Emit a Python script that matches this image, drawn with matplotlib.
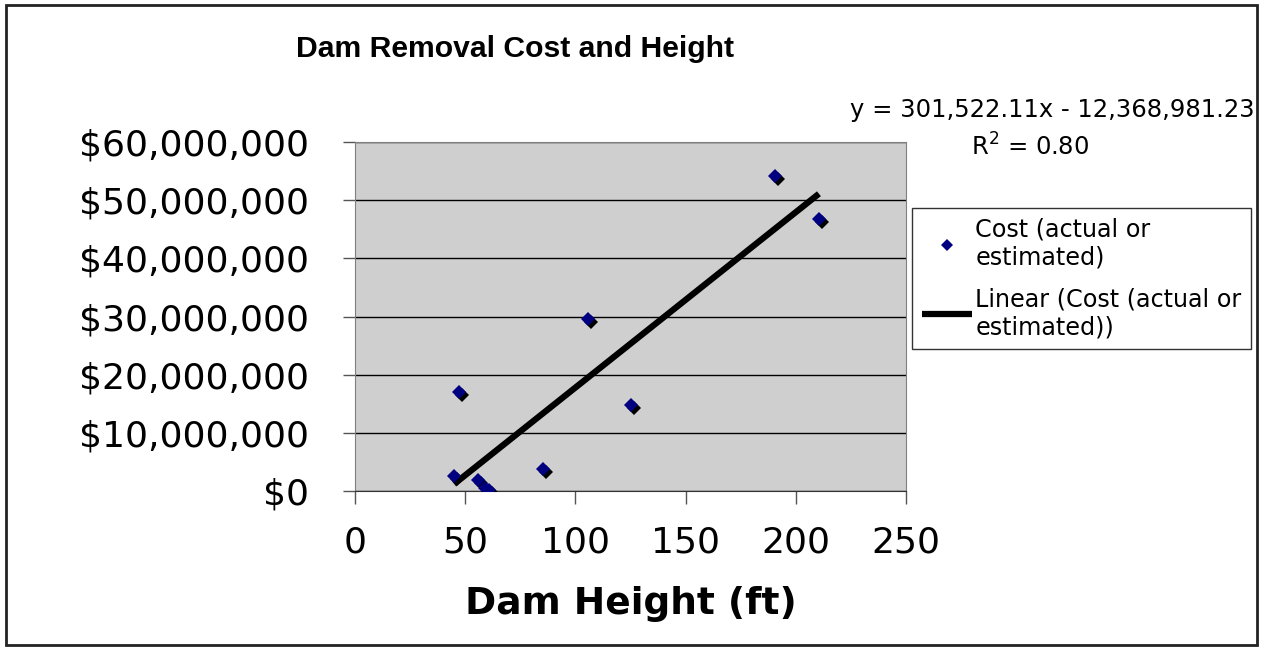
import matplotlib.pyplot as plt
import matplotlib.transforms as mtransforms
from matplotlib.patches import Rectangle
from matplotlib.ticker import FuncFormatter
import numpy as np

# dam height (ft) and removal cost ($)
heights = [45, 47, 56, 59, 61, 85.5, 105.5, 125, 190.5, 210.5]
costs = [2.6e6, 17.0e6, 1.9e6, 0.6e6, 0.1e6, 3.8e6, 29.6e6, 14.8e6, 54.2e6, 46.8e6]

# Excel linear trend line as printed on the chart
slope = 301522.11
intercept = -12368981.23
r_squared = 0.80

x_ticks = [0, 50, 100, 150, 200, 250]
y_ticks = [0, 10e6, 20e6, 30e6, 40e6, 50e6, 60e6]

fig = plt.figure(figsize=(12.65, 6.48), dpi=100)
ax = fig.add_axes([355/1265, 1 - 491/648, (906 - 355)/1265, (491 - 142)/648])
ax.set_facecolor('#cfcfcf')

# trend line over the data range
x_fit = np.array([min(heights), max(heights)])
y_fit = slope * x_fit + intercept
line_h, = ax.plot(x_fit, y_fit, color='black', lw=4.5, solid_capstyle='butt',
                  zorder=3, label='Linear (Cost (actual or\nestimated))')

# diamonds with black drop shadow
shadow = mtransforms.offset_copy(ax.transData, fig=fig, x=3, y=-3, units='dots')
ax.plot(heights, costs, 'D', color='black', ms=7.5, mew=0, transform=shadow, zorder=4)
pts_h, = ax.plot(heights, costs, 'D', color='#000080', ms=7.5, mew=0, zorder=5,
                 label='Cost (actual or\nestimated)')

ax.set_xlim(0, 250)
ax.set_ylim(0, 60e6)
ax.set_xticks(x_ticks)
ax.set_yticks(y_ticks)
ax.yaxis.set_major_formatter(FuncFormatter(lambda v, p: '${:,.0f}'.format(v)))
ax.tick_params(axis='both', direction='out', length=9, width=1, labelsize=26,
               color='#555555')
ax.tick_params(axis='y', pad=24)
ax.tick_params(axis='x', pad=16)
ax.grid(axis='y', color='black', lw=1)
ax.set_axisbelow(True)
for side in ['top', 'right', 'left']:
    ax.spines[side].set_color('#808080')
ax.spines['bottom'].set_color('#333333')

ax.set_xlabel('Dam Height (ft)', fontsize=27, fontweight='bold', labelpad=19)

fig.text(515/1265, 1 - 49/648, 'Dam Removal Cost and Height', ha='center', va='center',
         fontsize=21.7, fontweight='bold', family='Liberation Sans')

fig.text(1255/1265, 1 - 110/648,
         'y = {:,.2f}x - {:,.2f}'.format(slope, -intercept),
         ha='right', va='center', fontsize=17.5)
fig.text(1030/1265, 1 - 147/648, r'R$^2$ = {:.2f}'.format(r_squared),
         ha='center', va='center', fontsize=17.5)

leg = fig.legend([pts_h, line_h], [pts_h.get_label(), line_h.get_label()],
                 loc='upper left', bbox_to_anchor=(912/1265, 1 - 208/648),
                 fontsize=17.2, frameon=True, fancybox=False, edgecolor='black',
                 handlelength=2.1, handletextpad=0.15, borderaxespad=0,
                 borderpad=0.4, labelspacing=0.75, markerscale=0.8)
leg.get_frame().set_linewidth(1)

fig.patches.append(Rectangle((6/1265, 3/648), 1251/1265, 640/648, transform=fig.transFigure,
                             fill=False, edgecolor='#222222', lw=2))

fig.savefig('out.png', dpi=100)
